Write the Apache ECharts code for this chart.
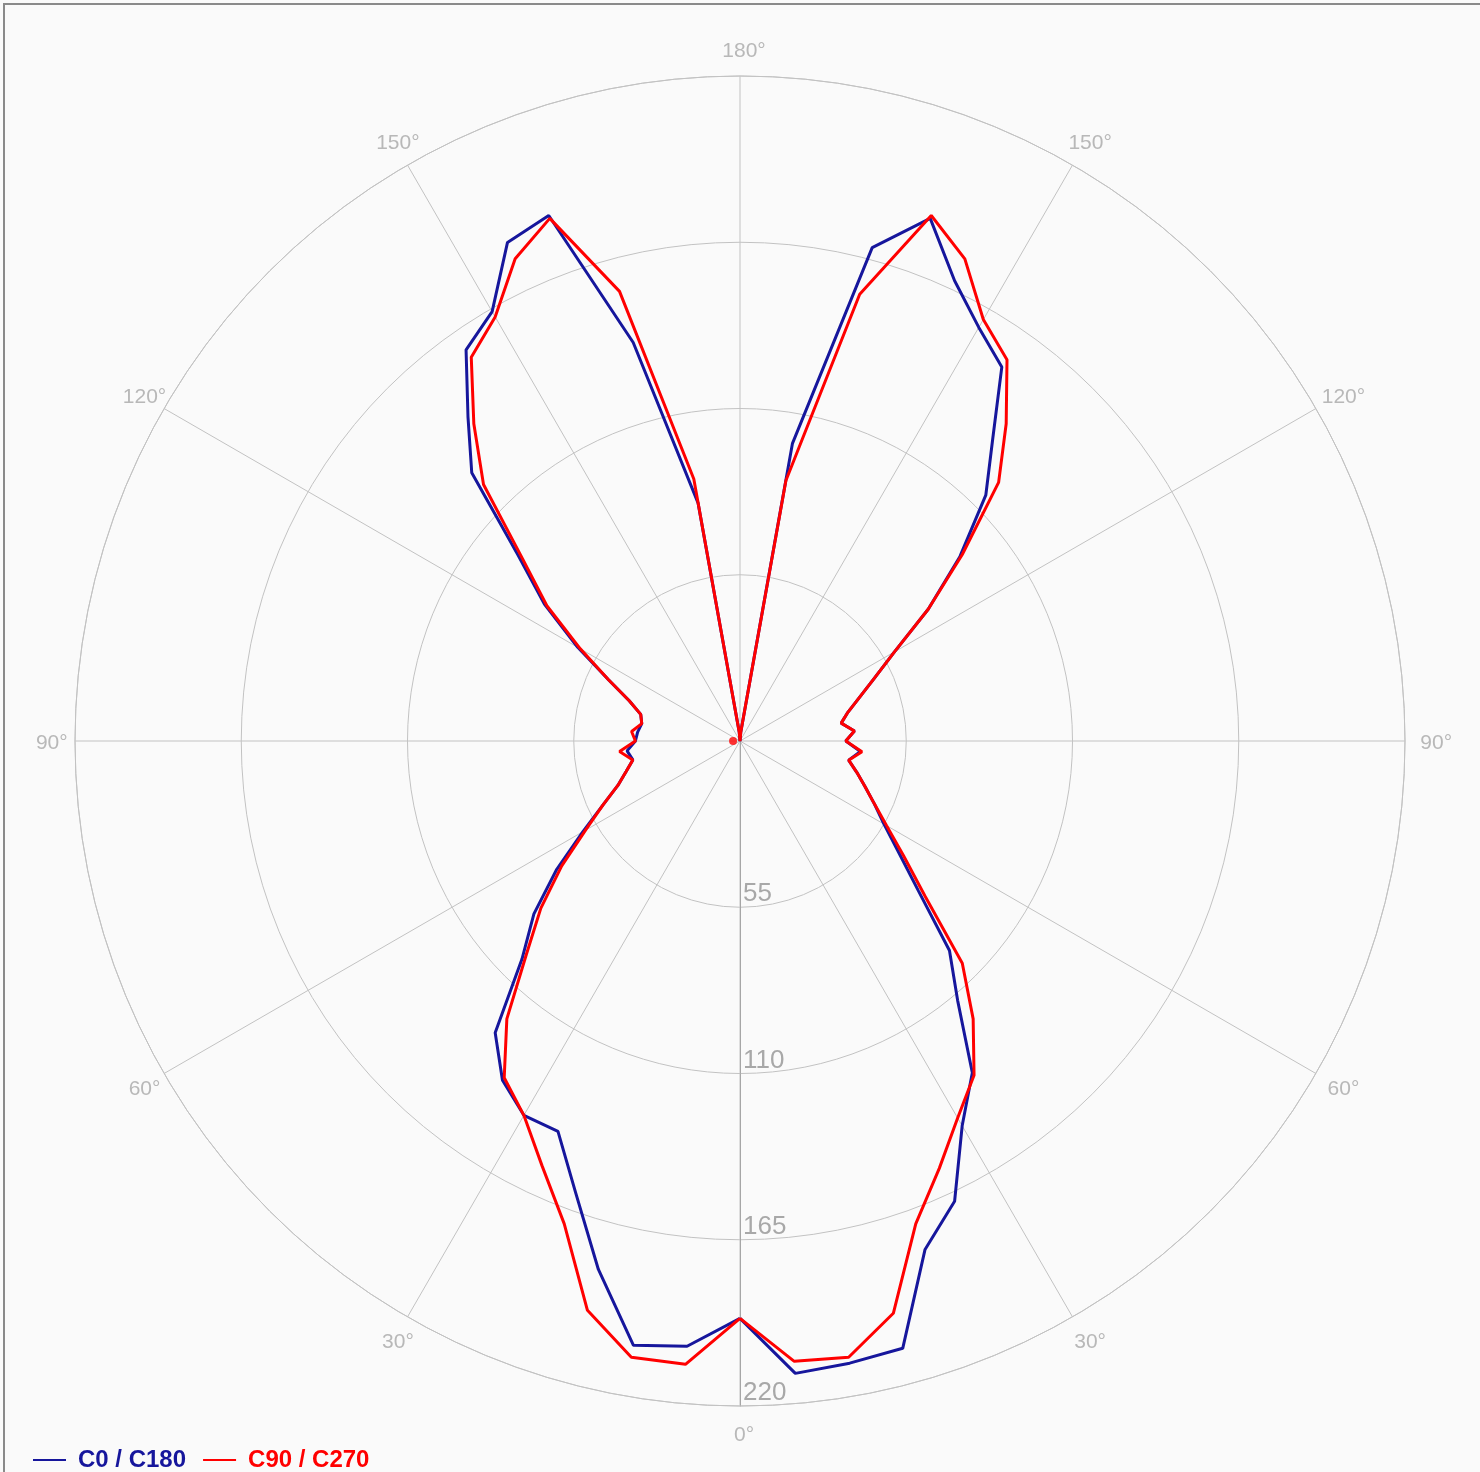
<!DOCTYPE html>
<html><head><meta charset="utf-8">
<script src="https://cdn.jsdelivr.net/npm/echarts@6/dist/echarts.min.js"></script>
<style>
html,body{margin:0;padding:0;background:#fafafa;overflow:hidden;}
#chart{position:absolute;left:0;top:0;width:1480px;height:1472px;}
#frame{position:absolute;left:3px;top:3px;width:1600px;height:1600px;border-left:2px solid #8a8a8a;border-top:2px solid #8a8a8a;pointer-events:none;}
</style></head><body>
<div id="chart"></div><div id="frame"></div>
<script>
// gamma angles (degrees from nadir)
const gammaAngles = [0,5,10,15,20,25,30,35,40,45,50,55,60,65,70,75,80,85,90,95,100,105,110,115,120,125,130,135,140,145,150,155,160,165,170,175,180];
// C0 (right half, blue)
const c0   = [191,210,209,208,179,168,147,134,112,98,77,64,55,49,44,40,36.5,40,35,38,34,37,42,49,59,76,95,115,130,151,158,168,184,169,100,3,0];
// C180 (left half, blue)
const c180 = [191,201,203,181,159,142.5,143,137,126,102,89,74,60,50,43,39,36,37.5,34.6,34,33,34,39,48,62,79,96,125.5,140,158,164,182,185,136.5,80,3,0];
// C90 (right half, red)
const c90  = [191,206,207,196,170,156,144,135,120,104,80,66,56,49,44,40,36.5,40.5,35,38,34,37,42,49,59,76,96,121,137,154,161,176,185,153,87.5,3,0];
// C270 (left half, red)
const c270 = [191,207,207,195,170,155,143,136,120,100,86,72,59,50,43,39,36,40,34.6,36,33,34,39,48,61,78,94,120,137,155,162,176,184,154,88,3,0];

const radiusTicks = [55,110,165,220];
const angleTicks = [0,30,60,90,120,150,180,210,240,270,300,330];
const angleLabelRadius = 229;
const seriesNames = ['C0 / C180','C90 / C270'];
const seriesColors = ['#16169c','#ff0000'];
const centerMark = [[2.3, 270]];

function buildLoop(right, left){
  const pts = [];
  gammaAngles.forEach((g,i)=>pts.push([right[i], g]));
  for (let i=gammaAngles.length-1;i>=0;i--) pts.push([left[i], 360-gammaAngles[i]]);
  return pts;
}

const chart = echarts.init(document.getElementById('chart'), null, {renderer:'canvas'});
const gridColor = '#c2c2c2';
const labelColor = '#a8a8a8';
const font = "'Liberation Sans', Arial, sans-serif";

chart.setOption({
  backgroundColor: 'transparent',
  animation: false,
  polar: { center: [740, 741], radius: 665 },
  angleAxis: {
    type: 'value', min: 0, max: 360, interval: angleTicks[1] - angleTicks[0],
    startAngle: 270, clockwise: false,
    axisLine: { show: true, lineStyle: { color: gridColor, width: 1 } },
    axisTick: { show: false },
    splitLine: { show: true, lineStyle: { color: gridColor, width: 1 } },
    axisLabel: { show: false }
  },
  radiusAxis: {
    type: 'value', min: 0, max: radiusTicks[radiusTicks.length-1], interval: radiusTicks[0],
    axisLine: { show: true, lineStyle: { color: '#a6a6a6' } },
    axisTick: { show: false },
    splitLine: { show: true, lineStyle: { color: gridColor, width: 1 } },
    axisLabel: {
      color: labelColor, fontSize: 26, fontFamily: font, margin: 3,
      align: 'left', verticalAlign: 'bottom',
      formatter: v => radiusTicks.includes(v) ? String(v) : ''
    }
  },
  legend: {
    left: 28, bottom: -5, itemWidth: 33, itemHeight: 14, itemGap: 17,
    icon: 'path://M0,6 L33,6 L33,8 L0,8 Z',
    textStyle: { fontSize: 24, fontWeight: 'bold', fontFamily: font, padding: [0,0,0,7] },
    data: seriesNames.map((n,i)=>({ name: n, textStyle: { color: seriesColors[i] } }))
  },
  series: [
    { name: seriesNames[0], type: 'line', coordinateSystem: 'polar', data: buildLoop(c0, c180),
      symbol: 'none', lineStyle: { width: 3, color: seriesColors[0] }, itemStyle: { color: seriesColors[0] }, z: 3 },
    { name: seriesNames[1], type: 'line', coordinateSystem: 'polar', data: buildLoop(c90, c270),
      symbol: 'none', lineStyle: { width: 3, color: seriesColors[1] }, itemStyle: { color: seriesColors[1] }, z: 4 },
    { type: 'scatter', coordinateSystem: 'polar', data: centerMark, symbolSize: 8,
      itemStyle: { color: seriesColors[1] }, z: 5, silent: true },
    { type: 'scatter', coordinateSystem: 'polar', clip: false, silent: true, z: 2,
      data: angleTicks.map(a => [angleLabelRadius, a]),
      symbolSize: 1, itemStyle: { color: 'rgba(0,0,0,0)' },
      label: { show: true, position: 'inside', offset: [4, 2], color: labelColor, fontSize: 21, fontFamily: font,
        formatter: p => { const a = p.value[1]; return (a <= 180 ? a : 360 - a) + '°'; } } }
  ]
});
</script>
</body></html>
